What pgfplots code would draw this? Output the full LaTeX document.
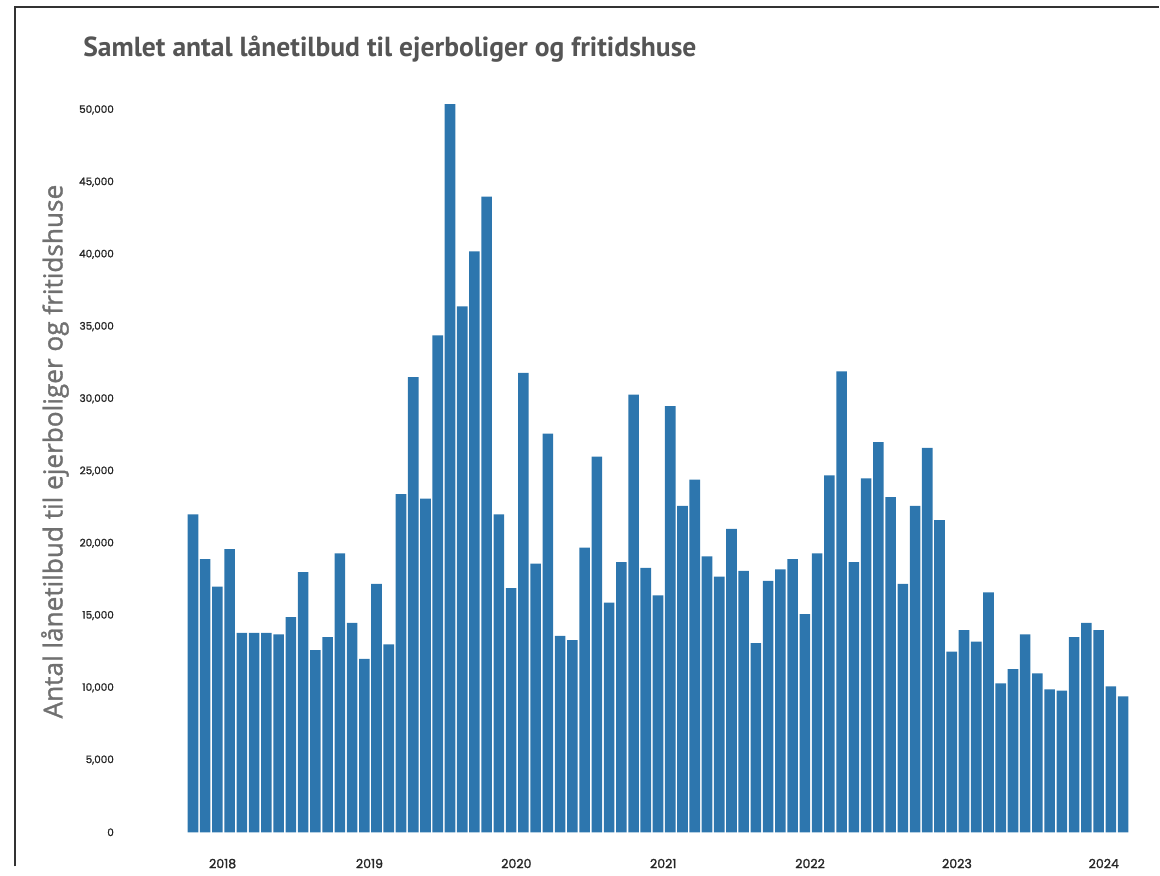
\documentclass[border=0pt]{standalone}
\usepackage{fontspec}
\usepackage{pgfplots}
\pgfplotsset{compat=1.18}
\setmainfont{Open Sans}
\newfontfamily\titlefont{PT Sans}
\newfontfamily\ylabfont[FakeBold=1.2]{Open Sans}
\newfontfamily\tickfont[FakeBold=1.5]{Poppins}
\definecolor{barblue}{RGB}{45,118,174}
\definecolor{titlegray}{RGB}{85,85,85}
\definecolor{labelgray}{RGB}{112,112,112}
\begin{document}
\begin{tikzpicture}[x=1pt,y=1pt]
\path (0,0) rectangle (580,-433.5);
\draw[line width=1pt,black!80] (7.5,-433.5) -- (7.5,-3.5) -- (580,-3.5);
\node[anchor=base west,inner sep=0,text=titlegray,font=\titlefont\bfseries\fontsize{13.8}{16}\selectfont] at (41.5,-28.5) {Samlet antal lånetilbud til ejerboliger og fritidshuse};
\node[rotate=90,inner sep=0,text=labelgray,font=\ylabfont\fontsize{13.1}{15}\selectfont] at (27.5,-226) {Antal lånetilbud til ejerboliger og fritidshuse};
\begin{axis}[
  at={(93.5pt,-416.5pt)}, anchor=south west,
  scale only axis, width=471.6pt, height=368.75pt,
  xmin=-0.5, xmax=76.5, ymin=0, ymax=51000,
  axis x line*=bottom, axis y line*=left,
  axis line style={draw=none},
  ybar, bar width=5.3pt,
  xtick={2,14,26,38,50,62,74},
  xticklabels={2018,2019,2020,2021,2022,2023,2024},
  ytick={0,5000,...,50000},
  scaled y ticks=false,
  /pgf/number format/.cd, 1000 sep={,}, assume math mode=true,
  /pgfplots/.cd,
  yticklabel style={font=\tickfont\fontsize{5.2}{6}\selectfont,text=black!85,xshift=-33pt},
  xticklabel style={font=\tickfont\fontsize{6.3}{7}\selectfont,text=black!85,yshift=-5.5pt,xshift=2.6pt},
  tick style={draw=none},
  clip=false,
]
\addplot[fill=barblue,draw=none] coordinates {
(0,22000) (1,18900) (2,17000) (3,19600) (4,13800) (5,13800) (6,13800) (7,13700)
(8,14900) (9,18000) (10,12600) (11,13500) (12,19300) (13,14500) (14,12000) (15,17200)
(16,13000) (17,23400) (18,31500) (19,23100) (20,34400) (21,50400) (22,36400) (23,40200)
(24,44000) (25,22000) (26,16900) (27,31800) (28,18600) (29,27600) (30,13600) (31,13300)
(32,19700) (33,26000) (34,15900) (35,18700) (36,30300) (37,18300) (38,16400) (39,29500)
(40,22600) (41,24400) (42,19100) (43,17700) (44,21000) (45,18100) (46,13100) (47,17400)
(48,18200) (49,18900) (50,15100) (51,19300) (52,24700) (53,31900) (54,18700) (55,24500)
(56,27000) (57,23200) (58,17200) (59,22600) (60,26600) (61,21600) (62,12500) (63,14000)
(64,13200) (65,16600) (66,10300) (67,11300) (68,13700) (69,11000) (70,9900) (71,9800)
(72,13500) (73,14500) (74,14000) (75,10100) (76,9400)
};
\end{axis}
\end{tikzpicture}
\end{document}
